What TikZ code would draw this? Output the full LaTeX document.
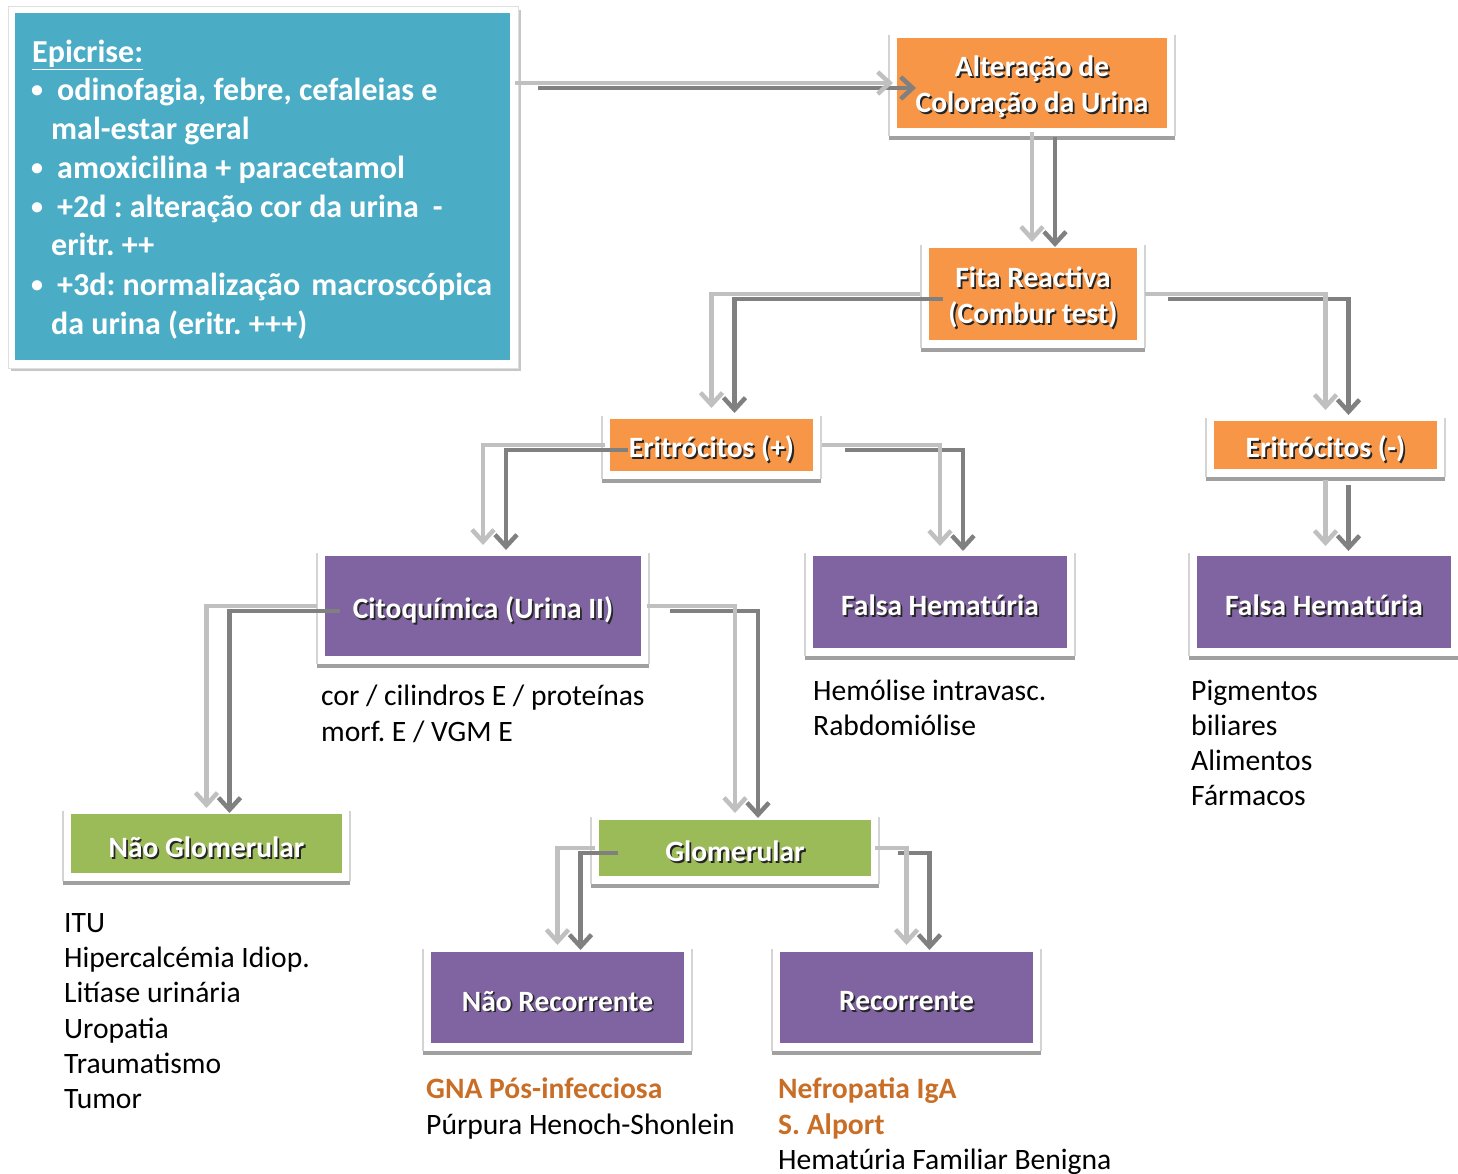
\documentclass[tikz,border=0pt]{standalone}
\usepackage{fontspec}
\setmainfont{Carlito}
\usetikzlibrary{arrows.meta,calc}
\definecolor{epiblue}{HTML}{4BACC6}
\definecolor{orng}{HTML}{F79646}
\definecolor{purp}{HTML}{8064A2}
\definecolor{grn}{HTML}{9BBB59}
\definecolor{lightln}{HTML}{C0C0C0}
\definecolor{darkln}{HTML}{808080}
\definecolor{edgegray}{HTML}{D4D4D4}
\definecolor{shadgray}{HTML}{A0A0A0}
\definecolor{txtorange}{HTML}{C86E27}
\newcommand\myshad[1]{\raisebox{-4.5pt}[\height][\depth]{\leavevmode\rlap{\hspace{1.8pt}\raisebox{-1.8pt}{\color{black!85}#1}}{\color{white}#1}}}
\newcommand\myframe[1]{%
  \draw[frameedge] ([shift={(-8pt,3pt)}]#1.north west) -- ([shift={(-8pt,-8pt)}]#1.south west);
  \draw[frameedge] ([shift={(8pt,3pt)}]#1.north east) -- ([shift={(8pt,-8pt)}]#1.south east);
  \draw[frameshadow] ([shift={(-8pt,-10pt)}]#1.south west) -- ([shift={(8pt,-10pt)}]#1.south east);}
\newcommand\mytwin[3]{%
  \draw[darkconn] ($(#1)+(23pt,-5pt)$) #3 ($(#2)+(23pt,-5pt)$);
  \draw[lightconn] (#1) #3 (#2);}
\tikzset{
  cbox/.style={inner sep=0pt, outer sep=0pt, align=center, font=\fontsize{29.5}{36}\selectfont\bfseries\frenchspacing},
  frameedge/.style={draw=edgegray, line width=1.2pt},
  frameshadow/.style={draw=shadgray, line width=4.5pt},
  conn/.style={line width=4.5pt, -{Straight Barb[length=12pt,width=22pt]}},
  lightconn/.style={conn, draw=lightln},
  darkconn/.style={conn, draw=darkln},
  epitext/.style={anchor=base west, inner sep=0pt, text=white, font=\fontsize{32}{38.5}\selectfont\bfseries\frenchspacing},
  epibullet/.style={anchor=base west, inner sep=0pt, text=white, font=\fontsize{24}{30}\selectfont\bfseries},
  plain/.style={anchor=base west, inner sep=0pt, font=\fontsize{29.6}{35}\selectfont\frenchspacing},
  orangebold/.style={plain, text=txtorange, font=\fontsize{29.6}{35}\selectfont\bfseries\frenchspacing}
}
\begin{document}
\begin{tikzpicture}[x=1pt,y=-1pt]
\useasboundingbox (0,0) rectangle (1458,1174);
% Epicrise box
\fill[gray!45] (11,10) rectangle (521,371);
\draw[gray!25, fill=white] (8,6) rectangle (518,368);
\node[fill=epiblue, minimum width=495pt, minimum height=347pt, inner sep=0pt, outer sep=0pt] (epi) at (262.5,186.5) {};
\node[epitext] (e0) at (32,62.5) {\underline{Epicrise:}};
\node[epibullet] (b1) at (31,98) {•};
\node[epitext] (e1) at (57,101) {odinofagia, febre, cefaleias e};
\node[epitext] (e2) at (51,140) {mal-estar geral};
\node[epibullet] (b2) at (31,175.5) {•};
\node[epitext] (e3) at (57,178.5) {amoxicilina + paracetamol};
\node[epibullet] (b3) at (31,214.5) {•};
\node[epitext] (e4) at (57,217.5) {+2d : alteração cor da urina\hspace{14pt}-};
\node[epitext] (e5) at (51,256) {eritr. ++};
\node[epibullet] (b4) at (31,292) {•};
\node[epitext] (e6) at (57,295) {+3d: normalização\hspace{4pt} macroscópica};
\node[epitext] (e7) at (51,334) {da urina (eritr. +++)};
% boxes
\node[cbox, fill=orng, minimum width=270pt, minimum height=90pt] (alt) at (1032,83) {\myshad{Alteração de}\\\myshad{Coloração da Urina}};
\node[cbox, fill=orng, minimum width=208pt, minimum height=92pt] (fita) at (1033,294) {\myshad{Fita Reactiva}\\\myshad{(Combur test)}};
\node[cbox, fill=orng, minimum width=203pt, minimum height=52pt] (erp) at (711.5,445) {\myshad{Eritrócitos (+)}};
\node[cbox, fill=orng, minimum width=223pt, minimum height=48pt] (erm) at (1325.5,445) {\myshad{Eritrócitos (-)}};
\node[cbox, fill=purp, minimum width=316pt, minimum height=100pt] (cit) at (483,606) {\myshad{Citoquímica (Urina II)}};
\node[cbox, fill=purp, minimum width=254pt, minimum height=92pt] (fh1) at (940,602) {\myshad{Falsa Hematúria}};
\node[cbox, fill=purp, minimum width=254pt, minimum height=92pt] (fh2) at (1324,602) {\myshad{Falsa Hematúria}};
\node[cbox, fill=grn, minimum width=271pt, minimum height=59pt] (ng) at (206.5,843.5) {\myshad{Não Glomerular}};
\node[cbox, fill=grn, minimum width=272pt, minimum height=56pt] (gl) at (735,848) {\myshad{Glomerular}};
\node[cbox, fill=purp, minimum width=253pt, minimum height=91pt] (nr) at (557.5,997.5) {\myshad{Não Recorrente}};
\node[cbox, fill=purp, minimum width=253pt, minimum height=91pt] (rec) at (906.5,997.5) {\myshad{Recorrente}};
\foreach \b in {alt,fita,erp,erm,cit,fh1,fh2,ng,gl,nr,rec} {\myframe{\b}}
% plain texts
\foreach \t [count=\i from 0] in {cor / cilindros E / proteínas, morf. E / VGM E}
  \node[plain] (ct\i) at (321,{705.5+36*\i}) {\t};
\foreach \t [count=\i from 0] in {Hemólise intravasc., Rabdomiólise}
  \node[plain] (h\i) at (813,{700.5+35*\i}) {\t};
\foreach \t [count=\i from 0] in {Pigmentos, biliares, Alimentos, Fármacos}
  \node[plain] (p\i) at (1191,{700.5+35*\i}) {\t};
\foreach \t [count=\i from 0] in {ITU, Hipercalcémia Idiop., Litíase urinária, Uropatia, Traumatismo, Tumor}
  \node[plain] (n\i) at (64,{932.5+35.2*\i}) {\t};
\node[orangebold] (gna) at (426,1098.5) {GNA Pós-infecciosa};
\node[plain] (pur) at (426,1134.5) {Púrpura Henoch-Shonlein};
\node[orangebold] (iga) at (778,1098.5) {Nefropatia IgA};
\node[orangebold] (alp) at (778,1134.5) {S. Alport};
\node[plain] (hfb) at (778,1169.5) {Hematúria Familiar Benigna};
% connectors
\coordinate (epiout) at ($(epi.east |- alt.west)+(5pt,0pt)$);
\coordinate (fitatop) at ($(alt.south |- fita.north)+(0pt,6pt)$);
\coordinate (fh2top) at ($(erm.south |- fh2.north)+(0pt,10pt)$);
\mytwin{epiout}{[xshift=-4pt]alt.west}{--}
\mytwin{[yshift=-4pt]alt.south}{fitatop}{--}
\mytwin{[xshift=-9pt]fita.west}{[yshift=11pt]erp.north}{-|}
\mytwin{[xshift=8pt]fita.east}{[yshift=11pt]erm.north}{-|}
\mytwin{[xshift=-5pt]erp.west}{[yshift=11pt]cit.north}{-|}
\mytwin{[xshift=9pt]erp.east}{[yshift=10pt]fh1.north}{-|}
\mytwin{[yshift=-11pt]erm.south}{fh2top}{--}
\mytwin{[xshift=-8pt]cit.west}{[yshift=6pt]ng.north}{-|}
\mytwin{[xshift=6pt]cit.east}{[yshift=7pt]gl.north}{-|}
\mytwin{[xshift=-4pt]gl.west}{[yshift=7pt]nr.north}{-|}
\mytwin{[xshift=4pt]gl.east}{[yshift=7pt]rec.north}{-|}
\end{tikzpicture}
\end{document}
